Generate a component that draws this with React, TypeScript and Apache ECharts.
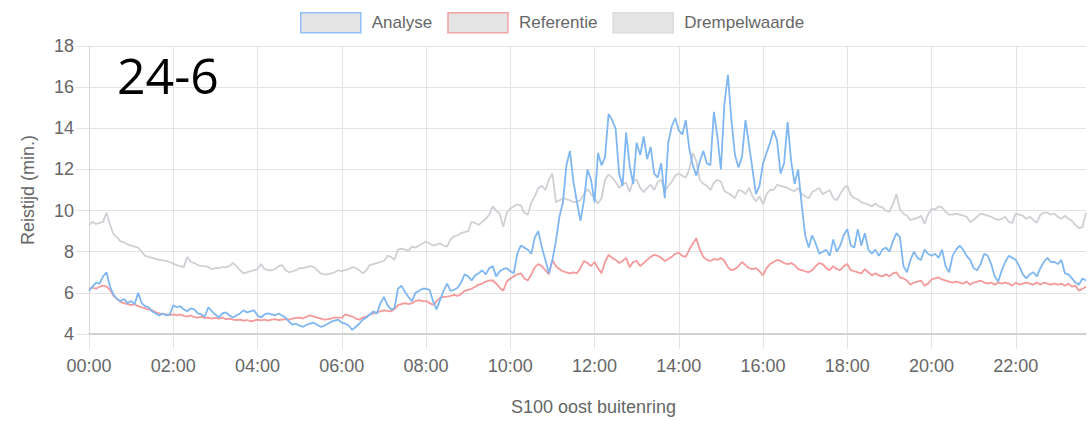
import React, { useEffect, useRef } from "react";
import * as echarts from "echarts";

// Time step between samples, minutes (00:00 .. 23:40)
const STEP_MIN = 5;
const X_TICKS = [0, 120, 240, 360, 480, 600, 720, 840, 960, 1080, 1200, 1320];
const Y_MIN = 4;
const Y_MAX = 18;
const Y_STEP = 2;
const TITLE = "24-6";
const X_NAME = "S100 oost buitenring";
const Y_NAME = "Reistijd (min.)";

// one row per hour (12 samples of 5 minutes)
const analyse = [
  6.1, 6.3, 6.5, 6.45, 6.8, 7.0, 6.3, 5.9, 5.7, 5.6, 5.7, 5.5,
  5.6, 5.45, 6.0, 5.5, 5.35, 5.3, 5.1, 5.0, 4.9, 5.0, 4.9, 4.95,
  5.4, 5.3, 5.35, 5.2, 5.1, 5.25, 5.2, 5.0, 4.95, 4.85, 5.3, 5.1,
  4.95, 4.8, 5.0, 5.05, 4.9, 4.8, 4.9, 5.0, 5.15, 5.05, 5.1, 5.15,
  4.9, 4.8, 4.95, 5.0, 4.95, 4.9, 5.0, 4.9, 4.8, 4.6, 4.45, 4.5,
  4.4, 4.35, 4.45, 4.5, 4.55, 4.45, 4.35, 4.4, 4.5, 4.6, 4.65, 4.7,
  4.55, 4.5, 4.4, 4.2, 4.35, 4.5, 4.7, 4.8, 4.95, 5.1, 5.0, 5.5,
  5.8, 5.4, 5.2, 5.25, 6.2, 6.35, 6.05, 5.8, 5.6, 6.0, 6.1, 6.2,
  6.2, 6.15, 5.6, 5.2, 5.65, 6.1, 6.45, 6.1, 6.15, 6.25, 6.5, 6.9,
  6.8, 6.6, 6.85, 6.95, 7.1, 6.9, 7.2, 7.3, 6.8, 7.05, 7.15, 7.2,
  7.05, 6.95, 7.9, 8.3, 8.2, 8.1, 7.9, 8.7, 9.0, 8.2, 7.6, 6.95,
  7.6, 8.5, 9.7, 10.4, 12.2, 12.9, 11.4, 10.4, 9.5, 10.5, 12.0, 11.5,
  10.4, 12.8, 12.2, 12.6, 14.7, 14.4, 14.0, 11.8, 11.2, 13.8, 12.2, 11.3,
  13.3, 12.7, 13.6, 12.5, 13.1, 11.8, 11.6, 12.3, 10.6, 13.3, 14.1, 14.5,
  13.9, 13.7, 14.4, 13.0, 12.2, 11.7, 12.4, 12.9, 12.3, 12.2, 14.8, 13.6,
  12.0, 15.2, 16.6, 14.4, 12.7, 12.1, 12.6, 14.4, 13.2, 12.0, 10.8, 11.2,
  12.3, 12.8, 13.3, 13.9, 13.4, 11.8, 12.3, 14.3, 12.4, 11.3, 12.0, 10.3,
  8.8, 8.2, 8.8, 8.4, 7.9, 8.0, 8.1, 7.8, 8.6, 8.0, 8.3, 8.8,
  9.1, 8.3, 8.2, 9.1, 8.3, 8.9, 8.1, 7.9, 8.1, 7.8, 8.1, 8.2,
  8.0, 8.5, 8.9, 8.7, 7.3, 7.0, 7.6, 8.0, 7.7, 7.6, 8.1, 7.9,
  7.8, 7.9, 7.7, 8.1, 7.3, 7.0, 7.8, 8.1, 8.3, 8.1, 7.8, 7.6,
  7.2, 7.1, 7.4, 7.9, 7.8, 7.4, 6.8, 6.55, 7.1, 7.5, 7.8, 7.7,
  7.6, 7.3, 6.9, 6.7, 6.9, 7.0, 6.8, 7.2, 7.5, 7.7, 7.5, 7.5,
  7.4, 7.6, 6.95, 6.9, 6.7, 6.5, 6.4, 6.7, 6.6,
];

const referentie = [
  6.2, 6.25, 6.2, 6.3, 6.35, 6.3, 6.15, 5.85, 5.7, 5.55, 5.5, 5.45,
  5.4, 5.45, 5.35, 5.3, 5.25, 5.2, 5.15, 5.05, 5.0, 4.98, 4.95, 4.92,
  4.95, 4.9, 4.95, 4.88, 4.85, 4.9, 4.82, 4.8, 4.85, 4.78, 4.8, 4.75,
  4.78, 4.75, 4.8, 4.72, 4.75, 4.7, 4.68, 4.7, 4.65, 4.68, 4.62, 4.65,
  4.7, 4.66, 4.7, 4.65, 4.7, 4.72, 4.68, 4.7, 4.72, 4.7, 4.75, 4.78,
  4.8, 4.75, 4.85, 4.9, 4.85, 4.8, 4.75, 4.7, 4.72, 4.75, 4.8, 4.8,
  4.78, 4.95, 4.9, 4.85, 4.75, 4.7, 4.8, 4.85, 4.95, 5.0, 5.05, 5.1,
  5.15, 5.12, 5.1, 5.2, 5.4, 5.45, 5.5, 5.45, 5.5, 5.6, 5.65, 5.6,
  5.6, 5.5, 5.42, 5.6, 5.75, 5.8, 5.82, 5.85, 5.9, 5.85, 5.95, 6.1,
  6.15, 6.2, 6.3, 6.4, 6.45, 6.55, 6.6, 6.6, 6.45, 6.25, 6.1, 6.55,
  6.7, 6.8, 6.9, 6.95, 6.7, 6.6, 6.9, 7.25, 7.4, 7.3, 7.1, 6.9,
  7.6, 7.3, 7.15, 7.05, 7.0, 6.95, 7.0, 6.95, 7.2, 7.55, 7.45, 7.3,
  7.5, 7.2, 6.95, 7.5, 7.85, 7.7, 7.6, 7.45, 7.55, 7.7, 7.25, 7.5,
  7.55, 7.3, 7.45, 7.6, 7.75, 7.85, 7.8, 7.7, 7.55, 7.65, 7.75, 7.9,
  7.95, 7.8, 7.75, 8.1, 8.4, 8.65, 8.1, 7.75, 7.6, 7.55, 7.65, 7.6,
  7.7, 7.55, 7.25, 7.1, 7.15, 7.3, 7.5, 7.35, 7.2, 7.15, 7.2, 7.05,
  6.85, 7.2, 7.4, 7.5, 7.6, 7.55, 7.45, 7.4, 7.45, 7.35, 7.15, 7.1,
  7.05, 7.0, 7.1, 7.3, 7.45, 7.4, 7.2, 7.1, 7.3, 7.15, 7.1, 7.3,
  7.4, 7.1, 7.05, 7.0, 6.95, 7.15, 7.0, 6.85, 6.95, 6.85, 6.8, 6.9,
  6.8, 6.95, 7.0, 6.75, 6.7, 6.6, 6.4, 6.5, 6.55, 6.6, 6.35, 6.45,
  6.65, 6.7, 6.75, 6.65, 6.6, 6.55, 6.5, 6.55, 6.5, 6.45, 6.55, 6.4,
  6.5, 6.55, 6.6, 6.5, 6.45, 6.5, 6.4, 6.5, 6.45, 6.5, 6.45, 6.35,
  6.5, 6.4, 6.45, 6.5, 6.45, 6.4, 6.5, 6.4, 6.5, 6.45, 6.4, 6.45,
  6.4, 6.45, 6.35, 6.45, 6.3, 6.35, 6.1, 6.2, 6.3,
];

const drempelwaarde = [
  9.3, 9.45, 9.35, 9.4, 9.45, 9.9, 9.3, 8.85, 8.7, 8.5, 8.45, 8.35,
  8.3, 8.25, 8.2, 8.0, 7.8, 7.75, 7.7, 7.65, 7.6, 7.58, 7.55, 7.5,
  7.42, 7.35, 7.3, 7.25, 7.75, 7.5, 7.45, 7.35, 7.3, 7.3, 7.25, 7.15,
  7.2, 7.2, 7.25, 7.25, 7.3, 7.45, 7.3, 7.1, 6.95, 7.0, 7.05, 7.1,
  7.15, 7.4, 7.15, 7.1, 7.1, 7.15, 7.3, 7.35, 7.1, 7.0, 7.05, 7.1,
  7.2, 7.2, 7.25, 7.3, 7.25, 7.1, 6.95, 6.9, 6.9, 6.95, 7.0, 7.1,
  7.05, 7.1, 7.15, 7.25, 7.2, 7.1, 6.95, 7.1, 7.35, 7.4, 7.45, 7.5,
  7.55, 7.8, 7.75, 7.6, 8.1, 8.15, 8.1, 8.05, 8.25, 8.2, 8.3, 8.4,
  8.5, 8.4, 8.3, 8.35, 8.4, 8.3, 8.25, 8.6, 8.75, 8.8, 8.9, 8.95,
  9.0, 9.45, 9.4, 9.3, 9.45, 9.6, 9.8, 10.2, 10.0, 9.85, 9.2, 9.9,
  10.1, 10.2, 10.3, 10.25, 9.9, 9.8, 10.4, 10.7, 11.1, 11.2, 11.0, 11.5,
  11.8, 10.4, 10.5, 10.6, 10.55, 10.5, 10.4, 10.45, 10.5, 10.8, 11.05, 10.8,
  10.6, 10.35, 10.6, 11.5, 11.75, 11.6, 11.4, 11.1, 11.3, 11.35, 10.9, 11.45,
  11.5, 11.1, 10.9, 11.1, 11.25, 11.0, 11.4, 11.5, 10.95, 11.2, 11.4, 11.7,
  11.8, 11.7, 11.6, 12.0, 12.8, 12.4, 11.5, 11.3, 11.2, 11.0, 11.35, 11.5,
  11.4, 10.95, 10.85, 10.75, 10.6, 11.0, 10.95, 10.8, 11.1, 10.7, 10.45, 10.7,
  10.3, 10.8, 11.0, 11.0, 11.25, 11.2, 11.15, 11.1, 11.0, 10.95, 11.1, 10.8,
  10.7, 10.6, 10.9, 11.0, 11.1, 10.8, 10.9, 11.0, 10.6, 10.5, 10.8, 11.1,
  11.2, 10.75, 10.6, 10.55, 10.4, 10.35, 10.3, 10.2, 10.35, 10.2, 10.15, 10.0,
  9.95, 10.3, 10.8, 10.05, 9.85, 9.75, 9.55, 9.6, 9.65, 9.75, 9.35, 9.8,
  10.1, 10.05, 10.2, 10.15, 9.95, 9.8, 9.8, 9.85, 9.8, 9.75, 9.7, 9.45,
  9.55, 9.7, 9.85, 9.8, 9.75, 9.7, 9.6, 9.55, 9.6, 9.7, 9.45, 9.4,
  9.85, 9.8, 9.75, 9.6, 9.7, 9.55, 9.4, 9.8, 9.9, 9.9, 9.8, 9.85,
  9.7, 9.6, 9.75, 9.6, 9.5, 9.3, 9.15, 9.2, 9.9,
];

const SERIES_NAMES = ["Analyse", "Referentie", "Drempelwaarde"];
const SERIES_VALUES = [analyse, referentie, drempelwaarde];
const LINE_COLORS = ["#7fb7f2", "#f49a9a", "#cfd0d5"];
const LEGEND_BORDERS = ["#8fc0f2", "#f2a3a3", "#dadada"];
const Z_ORDER = [5, 4, 3];

const pad2 = (n: number) => String(n).padStart(2, "0");
const fmtTime = (m: number) => `${pad2(Math.floor(m / 60))}:${pad2(Math.round(m % 60))}`;

export default function App() {
  const ref = useRef<HTMLDivElement>(null);

  useEffect(() => {
    if (!ref.current) return;
    const chart = echarts.init(ref.current, undefined, { renderer: "svg" });
    const lastMin = (analyse.length - 1) * STEP_MIN;
    const font = "'Liberation Sans', Arial, sans-serif";

    const option: any = {
      animation: false,
      textStyle: { fontFamily: font },
      legend: {
        left: 295,
        top: 7,
        icon: "rect",
        itemWidth: 60,
        itemHeight: 20,
        itemGap: 15,
        textStyle: { fontSize: 17, color: "#666", padding: [0, 0, 0, 6], fontFamily: font },
        data: SERIES_NAMES.map((name, i) => ({
          name,
          itemStyle: { color: "#e4e4e4", borderColor: LEGEND_BORDERS[i], borderWidth: 1.5 },
        })),
      },
      grid: { left: 89, right: 2, top: 46, bottom: 84 },
      xAxis: {
        type: "value",
        min: 0,
        max: lastMin,
        interval: 120,
        name: X_NAME,
        nameLocation: "middle",
        nameGap: 64,
        nameTextStyle: { fontSize: 18, color: "#666", padding: [0, 0, 0, 12], fontFamily: font },
        axisLine: { show: true, lineStyle: { color: "#c6c6c6", width: 1.5 } },
        axisTick: { show: true, length: 15, customValues: X_TICKS, lineStyle: { color: "#e3e3e3" } },
        axisLabel: {
          customValues: X_TICKS,
          formatter: (v: number) => fmtTime(v),
          fontSize: 18,
          color: "#666",
          margin: 23,
          fontFamily: font,
        },
        splitLine: { show: true, lineStyle: { color: "#e3e3e3" } },
      },
      yAxis: {
        type: "value",
        min: Y_MIN,
        max: Y_MAX,
        interval: Y_STEP,
        name: Y_NAME,
        nameLocation: "middle",
        nameGap: 52,
        nameTextStyle: { fontSize: 18, color: "#666", fontFamily: font },
        axisLine: { show: true, lineStyle: { color: "#d8d8d8" } },
        axisTick: { show: true, length: 13, lineStyle: { color: "#e3e3e3" } },
        axisLabel: { fontSize: 18, color: "#666", margin: 15, fontFamily: font },
        splitLine: { show: true, lineStyle: { color: "#e3e3e3" } },
      },
      graphic: [
        {
          type: "text",
          x: 117,
          y: 75,
          z: 100,
          style: {
            text: TITLE,
            fontSize: 50,
            fontFamily: "'Open Sans', 'Noto Sans', sans-serif",
            fill: "#000",
            verticalAlign: "middle",
          },
        },
      ],
      series: SERIES_NAMES.map((name, i) => ({
        name,
        type: "line",
        z: Z_ORDER[i],
        showSymbol: false,
        symbol: "none",
        data: SERIES_VALUES[i].map((v, k) => [k * STEP_MIN, v]),
        lineStyle: { color: LINE_COLORS[i], width: 1.8 },
        itemStyle: { color: LINE_COLORS[i] },
      })),
    };

    chart.setOption(option);
    return () => chart.dispose();
  }, []);

  return (
    <div
      ref={ref}
      style={{ position: "fixed", left: 0, top: 0, width: 1088, height: 421, background: "#fff" }}
    />
  );
}
